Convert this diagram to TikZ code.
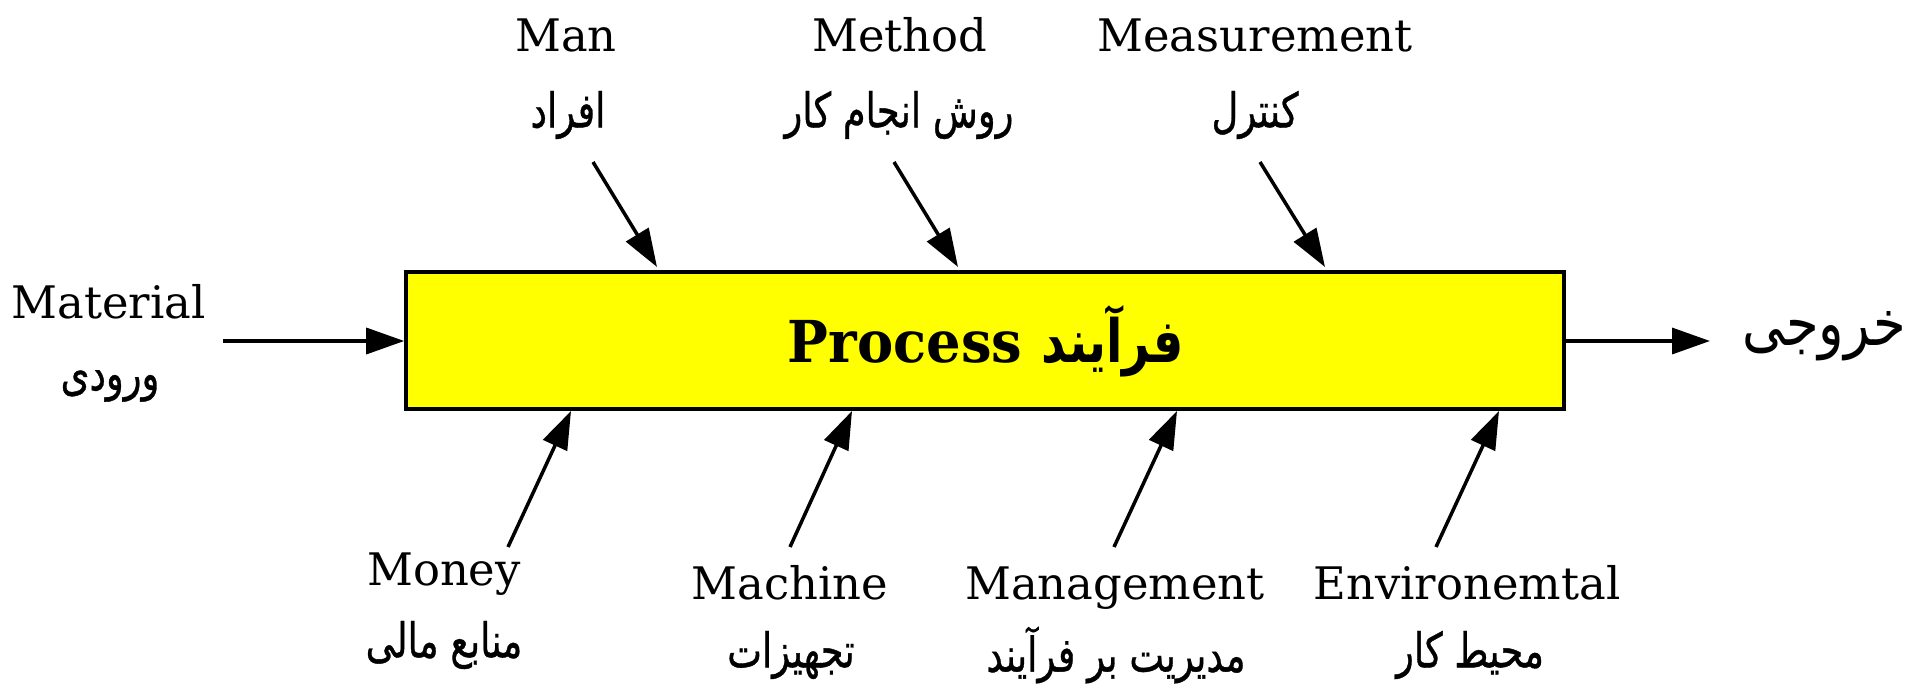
\documentclass[tikz,border=0pt]{standalone}
\usepackage{fontspec}
\setmainfont{DejaVu Serif}
\newfontfamily\fa[Script=Arabic]{DejaVu Sans}
\newfontfamily\fal[Script=Arabic,FakeBold=0.8]{DejaVu Sans}
\TeXXeTstate=1
\usetikzlibrary{arrows.meta}
\definecolor{procyellow}{RGB}{255,255,0}
\newcommand{\fatext}[1]{\scalebox{1}[1.3]{\fal\beginR #1\endR}}
\begin{document}
\begin{tikzpicture}[x=1bp,y=-1bp,
  en/.style={inner sep=0pt, font=\fontsize{45}{54}\selectfont, anchor=base},
  falab/.style={inner sep=0pt, font=\fontsize{37}{44}\selectfont},
  arr/.style={line width=3.5bp, -{Triangle[length=38bp,width=26bp]}},
  box/.style={draw, line width=3.5bp, fill=procyellow, minimum width=1158bp,
              minimum height=137bp, inner sep=0pt}]
\useasboundingbox (0,0) rectangle (1919,684);

% process box
\node[box] (proc) at (985,340.5) {};
\node[inner sep=0pt, anchor=base] (ptext) at (986,362)
  {\fontsize{58}{66}\selectfont\bfseries\scalebox{0.94}[1]{Process}\hspace{19bp}\scalebox{1}[1.25]{\fa\fontsize{48}{56}\selectfont\bfseries\beginR فرآیند\endR}};

% top labels
\node[en] (man) at (566,52) {Man};
\node[falab] (manfa) at (568,115) {\fatext{افراد}};
\node[en] (method) at (900,52) {Method};
\node[falab] (methodfa) at (899,115) {\fatext{روش انجام کار}};
\node[en] (meas) at (1255,52) {Measurement};
\node[falab] (measfa) at (1255,115) {\fatext{کنترل}};

% left / right
\node[en] (mat) at (108.5,318) {Material};
\node[falab] (matfa) at (110,386) {\fatext{ورودی}};
\node[inner sep=0pt, font=\fontsize{53}{60}\selectfont] (out) at (1824,336) {\scalebox{1}[1.2]{\fa\beginR خروجی\endR}};

% bottom labels
\node[en] (money) at (444,585) {Money};
\node[falab] (moneyfa) at (444,645) {\fatext{منابع مالی}};
\node[en] (mach) at (790,599) {Machine};
\node[falab] (machfa) at (791,655) {\fatext{تجهیزات}};
\node[en] (mgmt) at (1115,599) {Management};
\node[falab] (mgmtfa) at (1116,655) {\fatext{مدیریت بر فرآیند}};
\node[en] (env) at (1467,599) {Environemtal};
\node[falab] (envfa) at (1470,655) {\fatext{محیط کار}};

% arrow end points
\coordinate (s1) at (593,162);  \coordinate (t1) at (657,267);
\coordinate (s2) at (894,162);  \coordinate (t2) at (958,267);
\coordinate (s3) at (1260,162); \coordinate (t3) at (1325,267);
\coordinate (b1) at (508,547);  \coordinate (u1) at (571,411);
\coordinate (b2) at (790,547);  \coordinate (u2) at (852,411);
\coordinate (b3) at (1114,547); \coordinate (u3) at (1177,411);
\coordinate (b4) at (1436,547); \coordinate (u4) at (1499,411);
\coordinate (ms) at (223,341);
\coordinate (oe) at (1710,341);

\draw[arr] (s1) -- (t1);
\draw[arr] (s2) -- (t2);
\draw[arr] (s3) -- (t3);
\draw[arr] (b1) -- (u1);
\draw[arr] (b2) -- (u2);
\draw[arr] (b3) -- (u3);
\draw[arr] (b4) -- (u4);
\draw[arr] (ms) -- (proc.west |- ms);
\draw[arr] (proc.east |- oe) -- (oe);
\end{tikzpicture}
\end{document}
